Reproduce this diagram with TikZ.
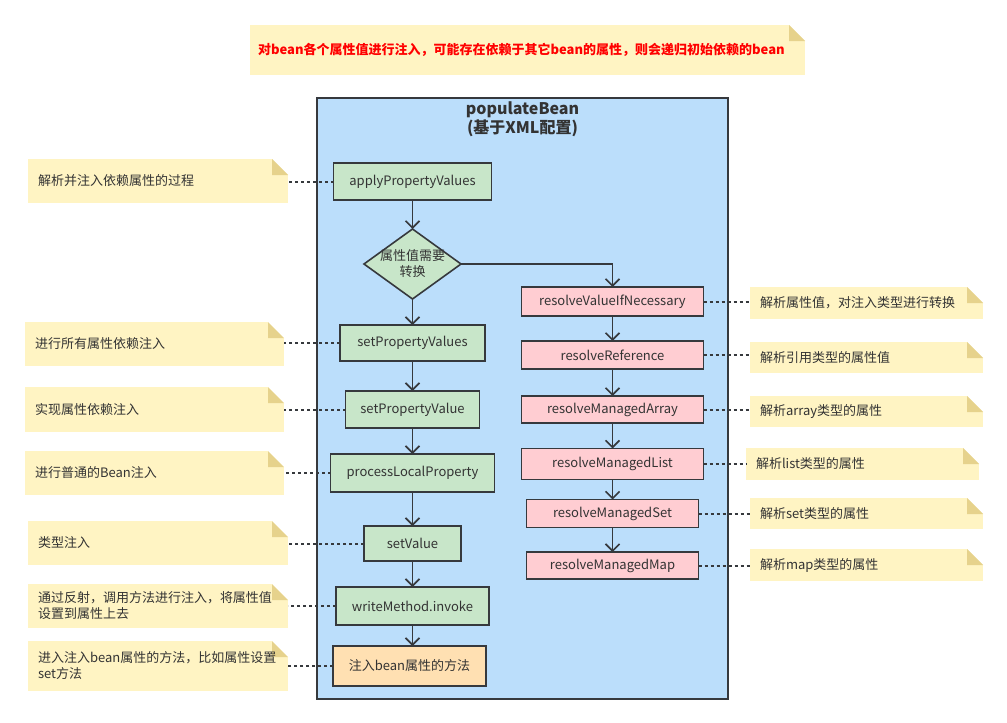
\documentclass[tikz,border=0pt]{standalone}
\usepackage{fontspec}
\setmainfont{Noto Sans CJK SC}
\usetikzlibrary{shapes.geometric,arrows.meta,calc}
\definecolor{strokec}{HTML}{36393D}
\definecolor{txt}{HTML}{333333}
\definecolor{bluebg}{HTML}{BBDEFB}
\definecolor{greenf}{HTML}{C8E6C9}
\definecolor{pinkf}{HTML}{FFCDD2}
\definecolor{orangef}{HTML}{FFE0B2}
\definecolor{notef}{HTML}{FFF4C3}
\definecolor{foldc}{HTML}{E6D28C}
\definecolor{redt}{HTML}{FF0000}
\begin{document}
\begin{tikzpicture}[x=1pt,y=-1pt,
  every node/.style={inner sep=0pt, outer sep=0pt},
  box/.style={draw=strokec, line width=1.6pt, text=txt, font=\fontsize{13}{16}\selectfont},
  gbox/.style={box, fill=greenf},
  pbox/.style={box, fill=pinkf},
  obox/.style={box, fill=orangef},
  note/.style={rectangle, fill=notef, text=txt, inner xsep=10pt, align=left,
    font=\fontsize{13}{16}\selectfont,
    path picture={
      \fill[white] ([xshift=-16pt]path picture bounding box.north east) -- (path picture bounding box.north east) -- ([yshift=-16pt]path picture bounding box.north east) -- cycle;
      \fill[foldc] ([xshift=-16pt]path picture bounding box.north east) -- ([xshift=-16pt,yshift=-16pt]path picture bounding box.north east) -- ([yshift=-16pt]path picture bounding box.north east) -- cycle;
    }},
  arr/.style={draw=strokec, line width=1.6pt, -{Straight Barb[length=7pt,width=14pt]}},
  dotc/.style={draw=strokec, line width=2pt, dash pattern=on 3pt off 3pt}
]
\useasboundingbox (0,0) rectangle (1007,723);
\fill[white] (0,0) rectangle (1007,723);

% top note
\node[note, minimum width=555pt, minimum height=50pt, inner xsep=8pt, text width=539pt,
  text=redt, font=\bfseries\fontsize{13}{16}\selectfont] (top) at (527.5,50)
  {对bean各个属性值进行注入，可能存在依赖于其它bean的属性，则会递归初始依赖的bean};

% container
\node[draw=strokec, line width=1.6pt, fill=bluebg, minimum width=411pt, minimum height=601pt] (pb) at (522.5,398.5) {};
\node[font=\bfseries\fontsize{16}{19}\selectfont, text=txt, align=center] (pbt) at (522.5,119.5) {populateBean\\(基于XML配置)};

% left column
\node[gbox, minimum width=158pt, minimum height=37pt] (apv) at (412.5,181.5) {applyPropertyValues};
\node[diamond, draw=strokec, line width=1.6pt, fill=greenf, minimum width=97pt, minimum height=70pt,
  label={[font=\fontsize{13}{16}\selectfont, text=txt, align=center]center:属性值需要\\转换}] (dia) at (412.5,264) {};
\node[gbox, minimum width=145pt, minimum height=36pt] (spvs) at (412.5,343) {setPropertyValues};
\node[gbox, minimum width=134pt, minimum height=37pt] (spv) at (412.5,409.5) {setPropertyValue};
\node[gbox, minimum width=164pt, minimum height=38pt] (plp) at (412.5,473) {processLocalProperty};
\node[gbox, minimum width=97pt, minimum height=35pt] (sv) at (412.5,543.5) {setValue};
\node[gbox, minimum width=153pt, minimum height=38pt] (wmi) at (412.5,606) {writeMethod.invoke};
\node[obox, minimum width=153pt, minimum height=40pt] (inj) at (409.5,666) {注入bean属性的方法};

% right column
\node[pbox, minimum width=182pt, minimum height=29pt] (rvin) at (612.5,301.5) {resolveValueIfNecessary};
\node[pbox, minimum width=182pt, minimum height=28pt] (rr) at (612.5,355) {resolveReference};
\node[pbox, minimum width=182pt, minimum height=27pt] (rma) at (612.5,409.5) {resolveManagedArray};
\node[pbox, minimum width=182pt, minimum height=31pt] (rml) at (612.5,464) {resolveManagedList};
\node[pbox, minimum width=172pt, minimum height=28pt] (rms) at (612.5,513.5) {resolveManagedSet};
\node[pbox, minimum width=172pt, minimum height=27pt] (rmm) at (612.5,565.5) {resolveManagedMap};

% left notes
\node[note, minimum width=260pt, text width=240pt, minimum height=44pt] (n1) at (158,181) {解析并注入依赖属性的过程};
\node[note, minimum width=259pt, text width=239pt, minimum height=44pt] (n2) at (154.5,344) {进行所有属性依赖注入};
\node[note, minimum width=259pt, text width=239pt, minimum height=45pt] (n3) at (154.5,409.5) {实现属性依赖注入};
\node[note, minimum width=259pt, text width=239pt, minimum height=44pt] (n4) at (154.5,473) {进行普通的Bean注入};
\node[note, minimum width=260pt, text width=240pt, minimum height=44pt] (n5) at (158,543) {类型注入};
\node[note, minimum width=260pt, text width=240pt, minimum height=44pt] (n6) at (158,606) {通过反射，调用方法进行注入，将属性值\\设置到属性上去};
\node[note, minimum width=260pt, text width=240pt, minimum height=50pt] (n7) at (158,666) {进入注入bean属性的方法，比如属性设置\\set方法};

% right notes
\node[note, minimum width=233pt, text width=213pt, minimum height=32pt] (m1) at (866.5,303) {解析属性值，对注入类型进行转换};
\node[note, minimum width=233pt, text width=213pt, minimum height=31pt] (m2) at (866.5,357.5) {解析引用类型的属性值};
\node[note, minimum width=233pt, text width=213pt, minimum height=31pt] (m3) at (866.5,411.5) {解析array类型的属性};
\node[note, minimum width=233pt, text width=213pt, minimum height=32pt] (m4) at (862.5,464) {解析list类型的属性};
\node[note, minimum width=233pt, text width=213pt, minimum height=31pt] (m5) at (866.5,513.5) {解析set类型的属性};
\node[note, minimum width=233pt, text width=213pt, minimum height=32pt] (m6) at (866.5,565) {解析map类型的属性};

% arrows
\draw[arr] (apv) -- (dia);
\draw[arr] (dia) -- (spvs);
\draw[arr] (spvs) -- (spv);
\draw[arr] (spv) -- (plp);
\draw[arr] (plp) -- (sv);
\draw[arr] (sv) -- (wmi);
\draw[arr] (wmi.south) -- (wmi.south |- inj.north);
\draw[arr] (dia.east) -| (rvin.north);
\draw[arr] (rvin) -- (rr);
\draw[arr] (rr) -- (rma);
\draw[arr] (rma) -- (rml);
\draw[arr] (rml) -- (rms);
\draw[arr] (rms) -- (rmm);

% dotted connectors
\draw[dotc] (apv.west) -- (apv.west -| n1.east);
\draw[dotc] (spvs.west) -- (spvs.west -| n2.east);
\draw[dotc] (spv.west) -- (spv.west -| n3.east);
\draw[dotc] (plp.west) -- (plp.west -| n4.east);
\draw[dotc] (sv.west) -- (sv.west -| n5.east);
\draw[dotc] (wmi.west) -- (wmi.west -| n6.east);
\draw[dotc] (inj.west) -- (inj.west -| n7.east);
\draw[dotc] (rvin.east) -- (rvin.east -| m1.west);
\draw[dotc] (rr.east) -- (rr.east -| m2.west);
\draw[dotc] (rma.east) -- (rma.east -| m3.west);
\draw[dotc] (rml.east) -- (rml.east -| m4.west);
\draw[dotc] (rms.east) -- (rms.east -| m5.west);
\draw[dotc] (rmm.east) -- (rmm.east -| m6.west);
\end{tikzpicture}
\end{document}
